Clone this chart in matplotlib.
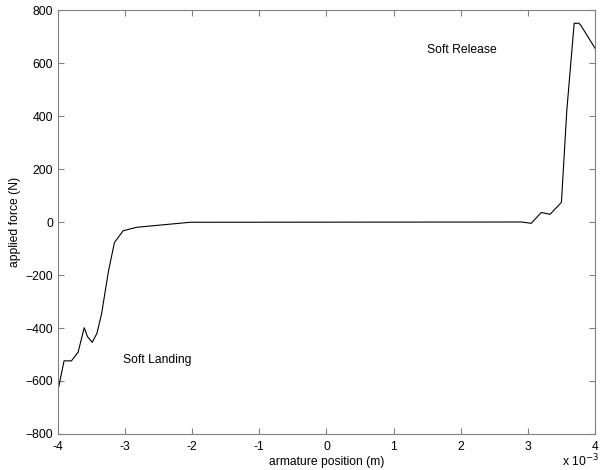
import numpy as np
import matplotlib
matplotlib.use('Agg')
import matplotlib.pyplot as plt
from matplotlib.ticker import FuncFormatter

plt.rcParams['font.family'] = ['Liberation Sans', 'DejaVu Sans']

# armature position (m) and applied force (N)
position = np.array([-4.0, -3.91, -3.80, -3.70, -3.61, -3.56, -3.49, -3.42, -3.35,
                     -3.25, -3.16, -3.03, -2.83, -2.03, 2.91, 3.05, 3.20, 3.33,
                     3.50, 3.58, 3.69, 3.76, 3.79, 4.0]) * 1e-3
force = np.array([-635, -524, -524, -491, -399, -433, -454, -420, -345,
                  -188, -78, -33, -20, -1, 0, -5, 36, 29,
                  74, 420, 750, 750, 742, 656])

xticks = np.arange(-4, 5) * 1e-3
yticks = np.arange(-800, 801, 200)

def main():
    fig = plt.figure(figsize=(6.03, 4.7), dpi=100)
    ax = fig.add_axes([0.0962, 0.0766, 0.8905, 0.9021])
    ax.plot(position, force, color='black', linewidth=0.8)

    ax.set_xlim(-4e-3, 4e-3)
    ax.set_ylim(-800, 800)
    ax.set_xticks(xticks)
    ax.set_yticks(yticks)
    ax.xaxis.set_major_formatter(FuncFormatter(lambda v, p: '%g' % round(v * 1e3)))
    ax.tick_params(direction='in', length=4, width=0.8, color='#808080',
                   labelsize=8.7, top=True, right=True)
    ax.tick_params(axis='x', pad=5)
    for s in ax.spines.values():
        s.set_color('#808080')
        s.set_linewidth(0.8)

    ax.set_xlabel('armature position (m)', fontsize=8.7, labelpad=2)
    ax.set_ylabel('applied force (N)', fontsize=8.7, labelpad=3)

    ax.text(-3.03e-3, -520, 'Soft Landing', fontsize=8.7, va='center')
    ax.text(2.02e-3, 648, 'Soft Release', fontsize=8.7, va='center', ha='center')

    fig.text(0.932, 0.008, r'x 10$^{-3}$', fontsize=8.7)

    fig.savefig('out.png', dpi=100)


if __name__ == '__main__':
    main()
